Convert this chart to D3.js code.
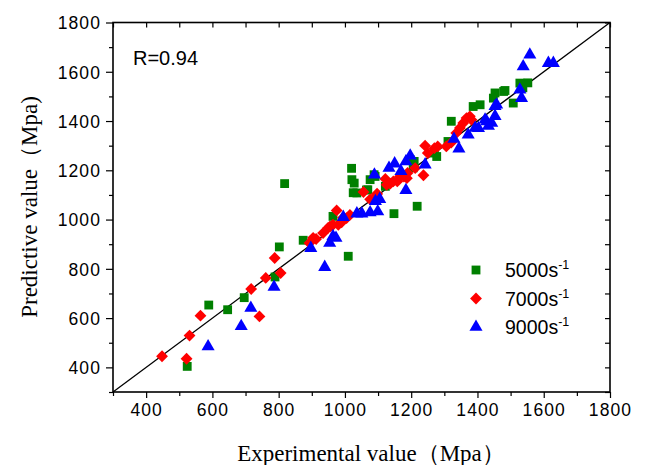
<!DOCTYPE html>
<html lang="en">
  <head>
    <meta charset="utf-8">
    <title>Predictive vs experimental</title>
    <script src="https://d3js.org/d3.v7.min.js"></script>
    <style>
      body { margin: 0; background: #fff; }
      .sans { font-family: "Liberation Sans", Arial, sans-serif; }
      .serif { font-family: "Liberation Serif", "Times New Roman", serif; }
    </style>
  </head>
  <body>
    <script type="text/javascript">

      var w = 646;
      var h = 465;

      // experimental value, predictive value (Mpa)
      var s5000 = [[524,404],[589,653],[646,634],[696,683],[789,767],[802,889],[818,1146],[874,916],
                   [964,1013],[1010,851],[1020,1208],[1021,1162],[1028,1148],[1025,1109],[1036,1108],
                   [1065,1120],[1069,1121],[1076,1162],[1088,1182],[1091,1175],[1122,1135],[1148,1024],
                   [1218,1054],[1197,1243],[1206,1210],[1209,1236],[1270,1270],[1277,1256],[1311,1317],
                   [1321,1399],[1387,1459],[1408,1466],[1453,1514],[1448,1493],[1483,1524],[1479,1520],
                   [1508,1473],[1528,1554],[1537,1535],[1552,1555]];

      var s7000 = [[448,445],[522,435],[531,529],[564,610],[717,718],[742,607],[761,763],[788,844],
                   [806,783],[893,905],[904,926],[913,921],[934,945],[949,966],[955,972],[964,979],
                   [975,1037],[980,979],[990,989],[994,1007],[1005,1006],[1015,1019],[1056,1112],
                   [1076,1082],[1096,1101],[1097,1105],[1122,1165],[1126,1141],[1137,1146],[1146,1155],
                   [1158,1155],[1166,1175],[1178,1175],[1187,1168],[1189,1189],[1212,1209],[1237,1180],
                   [1242,1300],[1250,1270],[1270,1290],[1280,1297],[1306,1297],[1321,1313],[1336,1351],
                   [1347,1372],[1357,1392],[1367,1412],[1377,1419],[1382,1405]];

      var s9000 = [[587,485],[687,567],[716,641],[786,726],[897,884],[939,807],[954,905],[964,932],
                   [973,925],[995,1010],[1036,1024],[1051,1024],[1076,1029],[1099,1033],[1092,1074],
                   [1105,1083],[1089,1182],[1133,1209],[1150,1227],[1169,1196],[1184,1119],[1184,1236],
                   [1197,1259],[1242,1223],[1329,1327],[1344,1288],[1372,1344],[1393,1372],[1403,1371],
                   [1423,1405],[1428,1398],[1433,1380],[1443,1392],[1453,1420],[1458,1466],[1453,1460],
                   [1528,1527],[1533,1493],[1538,1621],[1558,1669],[1614,1635],[1629,1635]];

      var seriesNames = ["5000", "7000", "9000"];
      var seriesColors = ["#008000", "#ff0000", "#0000ff"];
      var tickLabels = [400, 600, 800, 1000, 1200, 1400, 1600, 1800];
      var minorTicks = [300, 500, 700, 900, 1100, 1300, 1500, 1700];
      var fitLine = [[300, 300], [1800, 1800]];

      var svg = d3.select("body")
          .append("svg")
          .attr("width", w)
          .attr("height", h);

      var xscale = d3.scaleLinear().domain([300, 1800]).range([113, 610]);
      var yscale = d3.scaleLinear().domain([300, 1800]).range([392, 22.5]);

      // minor ticks (all four sides)
      svg.append("g").attr("transform", "translate(0,392)")
        .call(d3.axisBottom(xscale).tickValues(minorTicks).tickSize(4).tickFormat(""))
        .call(g => g.select(".domain").remove());
      svg.append("g").attr("transform", "translate(113,0)")
        .call(d3.axisLeft(yscale).tickValues(minorTicks).tickSize(4).tickFormat(""))
        .call(g => g.select(".domain").remove());
      svg.append("g").attr("transform", "translate(0,22.5)")
        .call(d3.axisTop(xscale).tickValues(minorTicks.concat(tickLabels)).tickSize(-5).tickFormat(""))
        .call(g => g.select(".domain").remove());
      svg.append("g").attr("transform", "translate(610,0)")
        .call(d3.axisRight(yscale).tickValues(minorTicks.concat(tickLabels)).tickSize(-5).tickFormat(""))
        .call(g => g.select(".domain").remove());

      var xAxis = svg.append("g").attr("transform", "translate(0,392)")
        .call(d3.axisBottom(xscale).tickValues(tickLabels).tickSize(6).tickPadding(6).tickFormat(d3.format("d")));
      var yAxis = svg.append("g").attr("transform", "translate(113,0)")
        .call(d3.axisLeft(yscale).tickValues(tickLabels).tickSize(7).tickPadding(5).tickFormat(d3.format("d")));

      [xAxis, yAxis].forEach(function(a) {
        a.select(".domain").remove();
        a.selectAll("text")
          .attr("class", "sans")
          .attr("font-family", null)
          .attr("font-size", 17.5)
          .attr("fill", "#000")
          .style("letter-spacing", "1.1px");
      });
      yAxis.selectAll("text").attr("dy", "0.36em");

      svg.selectAll(".tick line").attr("stroke", "#000").attr("stroke-width", 1.2);

      // frame
      svg.append("rect")
        .attr("x", 113).attr("y", 22.5)
        .attr("width", 610 - 113).attr("height", 392 - 22.5)
        .attr("fill", "none").attr("stroke", "#000").attr("stroke-width", 1.6);

      // y = x line
      svg.append("line")
        .attr("x1", xscale(fitLine[0][0])).attr("y1", yscale(fitLine[0][1]))
        .attr("x2", xscale(fitLine[1][0])).attr("y2", yscale(fitLine[1][1]))
        .attr("stroke", "#000").attr("stroke-width", 1.3);

      var symbols = [d3.symbolSquare, d3.symbolSquare, d3.symbolTriangle];
      var sizes = [78, 70, 74];
      var rotations = [0, 45, 0];
      var allSeries = [s5000, s7000, s9000];

      allSeries.forEach(function(data, i) {
        var sym = d3.symbol().type(symbols[i]).size(sizes[i]);
        svg.append("g").selectAll("path")
          .data(data)
          .enter()
          .append("path")
          .attr("d", sym)
          .attr("transform", d => "translate(" + xscale(d[0]) + "," + yscale(d[1]) + ") rotate(" + rotations[i] + ")")
          .attr("fill", seriesColors[i]);
      });

      svg.append("text")
        .attr("class", "sans")
        .attr("x", 133).attr("y", 65)
        .attr("font-size", 20)
        .text("R=0.94");

      // legend
      var legend = svg.append("g");
      seriesNames.forEach(function(name, i) {
        var ly = 270 + i * 28.5;
        var sym = d3.symbol().type(symbols[i]).size(sizes[i]);
        legend.append("path")
          .attr("d", sym)
          .attr("transform", "translate(476," + ly + ") rotate(" + rotations[i] + ")")
          .attr("fill", seriesColors[i]);
        var t = legend.append("text")
          .attr("class", "sans")
          .attr("x", 505).attr("y", ly + 7)
          .attr("font-size", 19.5);
        t.append("tspan").text(name + "s");
        t.append("tspan").attr("font-size", 12.5).attr("dy", -8).text("-1");
      });

      // axis titles
      svg.append("text")
        .attr("class", "serif")
        .attr("x", 371).attr("y", 461)
        .attr("text-anchor", "middle")
        .attr("font-size", 23)
        .text("Experimental value（Mpa）");

      svg.append("text")
        .attr("class", "serif")
        .attr("transform", "translate(37,207) rotate(-90)")
        .attr("text-anchor", "middle")
        .attr("font-size", 23)
        .text("Predictive value（Mpa)");

    </script>
  </body>
</html>
